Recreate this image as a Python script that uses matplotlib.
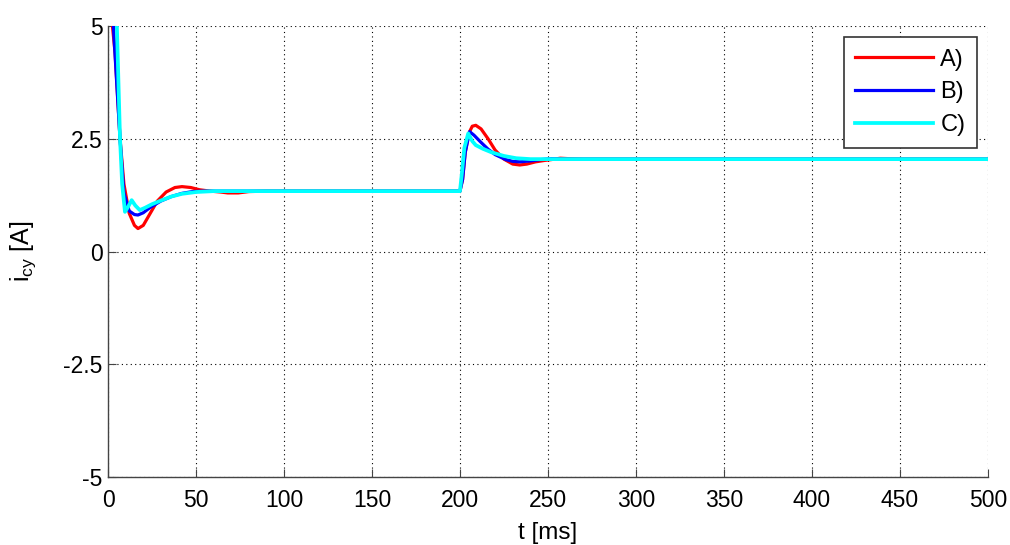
import matplotlib
matplotlib.use("Agg")
import matplotlib.pyplot as plt

plt.rcParams['font.family'] = ['Liberation Sans', 'DejaVu Sans']
plt.rcParams['mathtext.fontset'] = 'custom'
plt.rcParams['mathtext.rm'] = 'Liberation Sans'

# Time (ms) and current (A) for the three controller variants
t_a = [0, 2.5, 4, 6.8, 9, 12, 15, 17, 20, 24, 28, 33, 38, 42, 47, 52, 58, 64, 68,
       74, 80, 90, 200, 201.5, 203, 205, 207, 209, 212, 216, 220, 225, 230, 234,
       238, 243, 248, 252, 257, 262, 270, 500]
i_a = [6.5, 5.0, 4.4, 2.5, 1.5, 0.85, 0.58, 0.51, 0.58, 0.85, 1.12, 1.32, 1.42,
       1.44, 1.42, 1.37, 1.34, 1.32, 1.30, 1.30, 1.33, 1.34, 1.34, 1.6, 2.2, 2.62,
       2.78, 2.80, 2.72, 2.5, 2.25, 2.05, 1.94, 1.92, 1.94, 1.99, 2.02, 2.04, 2.07,
       2.06, 2.05, 2.05]

t_b = [0, 3, 6.8, 9, 12, 15, 17, 20, 24, 30, 36, 42, 48, 55, 65, 200, 201.5, 203,
       205.5, 208, 212, 216, 220, 226, 230, 234, 240, 246, 252, 258, 500]
i_b = [6.5, 5.0, 2.5, 1.3, 0.9, 0.82, 0.81, 0.86, 0.98, 1.12, 1.22, 1.29, 1.33,
       1.34, 1.34, 1.34, 1.6, 2.2, 2.66, 2.58, 2.42, 2.27, 2.15, 2.04, 2.00, 1.99,
       2.01, 2.04, 2.06, 2.05, 2.05]

t_c = [0, 5, 6.8, 8, 9.6, 11.5, 13.4, 15.5, 18, 21, 25, 30, 36, 42, 50, 60, 200,
       201, 202.5, 204.7, 207, 209, 213, 218, 225, 232, 240, 500]
i_c = [6.5, 5.0, 2.5, 1.5, 0.88, 1.0, 1.14, 1.02, 0.92, 0.97, 1.05, 1.13, 1.22,
       1.28, 1.32, 1.34, 1.34, 1.7, 2.3, 2.62, 2.45, 2.36, 2.28, 2.20, 2.12, 2.07,
       2.05, 2.05]

labels = ['A)', 'B)', 'C)']
x_ticks = list(range(0, 501, 50))
y_ticks = [-5, -2.5, 0, 2.5, 5]
y_ticklabels = ['-5', '-2.5', '0', '2.5', '5']

fig = plt.figure(figsize=(10.1, 5.45), dpi=100)
ax = fig.add_axes([0.107, 0.125, 0.871, 0.827])

ax.plot(t_a, i_a, color='#ff0000', lw=2.3, label=labels[0])
ax.plot(t_b, i_b, color='#0000ff', lw=2.3, label=labels[1])
ax.plot(t_c, i_c, color='#00ffff', lw=2.7, label=labels[2])

ax.set_xlim(0, 500)
ax.set_ylim(-5, 5)
ax.set_xticks(x_ticks)
ax.set_yticks(y_ticks)
ax.set_yticklabels(y_ticklabels)
ax.tick_params(direction='in', length=6, width=0.8, labelsize=16.5,
               labelcolor='black', color='#444444', top=False, right=False)
ax.tick_params(axis='x', pad=9)
ax.tick_params(axis='y', pad=4)
ax.grid(True, linestyle=(0, (1, 3)), color='black', lw=0.8)

for s in ['top', 'right']:
    ax.spines[s].set_visible(False)
for s in ['left', 'bottom']:
    ax.spines[s].set_color('#444444')
    ax.spines[s].set_linewidth(1.0)

ax.set_xlabel('t [ms]', fontsize=17.5, labelpad=7)
ax.set_ylabel(r'i$_{\mathrm{cy}}$ [A]', fontsize=18, labelpad=18)

leg = ax.legend(loc='upper right', fontsize=17, frameon=True, fancybox=False,
                edgecolor='#333333', framealpha=1, borderaxespad=0.45,
                borderpad=0.5, handlelength=3.3, handletextpad=0.3,
                labelspacing=0.45)
leg.get_frame().set_linewidth(1.2)

fig.savefig('out.png', dpi=100)
